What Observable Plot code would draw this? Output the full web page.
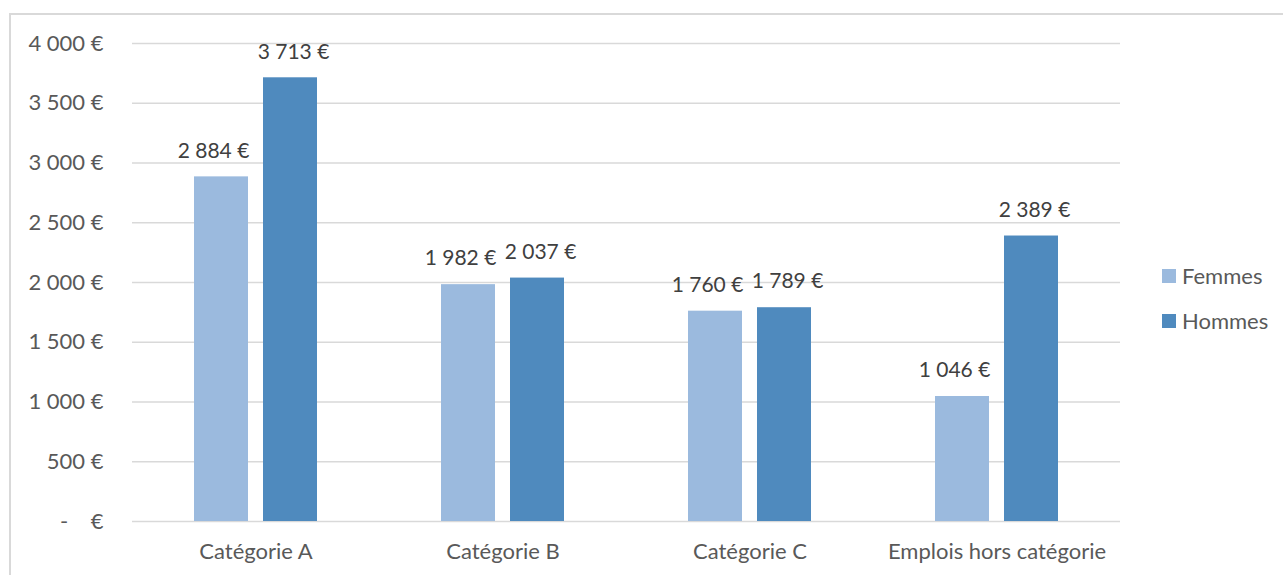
<!DOCTYPE html>
<html>
<head>
<meta charset="utf-8">
<script src="https://cdn.jsdelivr.net/npm/d3@7"></script>
<script src="https://cdn.jsdelivr.net/npm/@observablehq/plot@0.6"></script>
<style>
  html, body { margin: 0; padding: 0; background: #fff; }
  #wrap { position: relative; width: 1283px; height: 575px; overflow: hidden; font-family: Lato, sans-serif; }
  #frame { position: absolute; left: 9px; top: 13px; width: 1290px; height: 600px; border-left: 2px solid #d9d9d9; border-top: 2px solid #d9d9d9; box-sizing: border-box; }
  #chart { position: absolute; left: 0; top: 0; }
  #legend { position: absolute; left: 1162px; top: 253px; color: #595959; font-size: 22px; }
  .item { display: flex; align-items: center; height: 45px; }
  .sw { width: 14px; height: 14px; margin-right: 6px; }
</style>
</head>
<body>
<div id="wrap">
  <div id="frame"></div>
  <div id="chart"></div>
  <div id="legend"></div>
</div>
<script>
const categories = ["Catégorie A", "Catégorie B", "Catégorie C", "Emplois hors catégorie"];
const series = ["Femmes", "Hommes"];
const femmes = [2884, 1982, 1760, 1046];
const hommes = [3713, 2037, 1789, 2389];
const yTicks = [0, 500, 1000, 1500, 2000, 2500, 3000, 3500, 4000];
const colors = ["#9bbade", "#4f8abe"];

const data = [];
categories.forEach((c, i) => {
  data.push({cat: c, sex: "Femmes", value: femmes[i]});
  data.push({cat: c, sex: "Hommes", value: hommes[i]});
});

const fmtNum = v => d3.format(",")(v).replace(/,/g, "\u00a0");
const fmtEuro = v => v === 0 ? "-\u00a0\u00a0\u00a0\u00a0€" : fmtNum(v) + "\u00a0€";

const chart = Plot.plot({
  width: 1283,
  height: 575,
  marginLeft: 132,
  marginRight: 163,
  marginTop: 43,
  marginBottom: 54,
  style: {fontFamily: "Lato, sans-serif", fontSize: "22px", color: "#595959", background: "transparent"},
  fx: {domain: categories, padding: 0, label: null, tickSize: 0, tickPadding: 22, axis: "bottom"},
  x: {domain: series, paddingInner: 0.214, paddingOuter: 0.872, axis: null},
  y: {domain: [0, 4000], ticks: yTicks, tickFormat: fmtEuro, tickSize: 0, tickPadding: 29, label: null},
  color: {domain: series, range: colors},
  marks: [
    Plot.ruleY(yTicks, {stroke: "#d9d9d9", strokeWidth: 1.5}),
    Plot.barY(data, {fx: "cat", x: "sex", y: "value", fill: "sex"}),
    Plot.text(data.filter(d => d.sex === "Femmes"), {fx: "cat", x: "sex", y: "value", text: d => fmtEuro(d.value), dy: -26, dx: -8, fontSize: 21, fill: "#404040"}),
    Plot.text(data.filter(d => d.sex === "Hommes"), {fx: "cat", x: "sex", y: "value", text: d => fmtEuro(d.value), dy: -26, dx: 3, fontSize: 21, fill: "#404040"})
  ]
});
document.getElementById("chart").appendChild(chart);

const legend = document.getElementById("legend");
series.forEach((s, i) => {
  const it = document.createElement("div");
  it.className = "item";
  const sw = document.createElement("div");
  sw.className = "sw";
  sw.style.background = colors[i];
  const t = document.createElement("span");
  t.textContent = s;
  it.appendChild(sw); it.appendChild(t);
  legend.appendChild(it);
});
</script>
</body>
</html>
